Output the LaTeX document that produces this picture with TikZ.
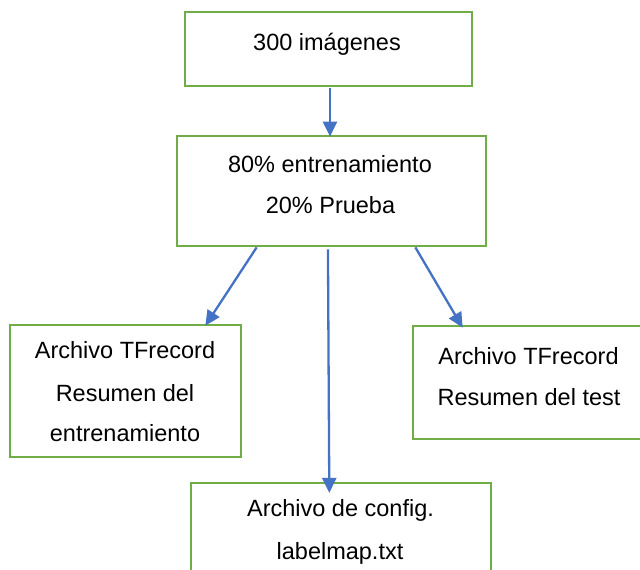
\documentclass[tikz,border=0pt]{standalone}
\usepackage{fontspec}
\setmainfont{Liberation Sans}
\usetikzlibrary{arrows.meta}
\definecolor{boxgreen}{HTML}{70AD47}
\definecolor{arrowblue}{HTML}{4472C4}
\begin{document}
\begin{tikzpicture}[x=1pt,y=-1pt,
  box/.style={draw=boxgreen,line width=2.7pt,fill=white,rectangle,inner sep=0pt},
  txt/.style={anchor=base,inner sep=0pt,font=\fontsize{23.5}{28}\selectfont,text=black},
  arr/.style={draw=arrowblue,line width=2.3pt,-{Triangle[length=15pt,width=14pt]}}]
  \useasboundingbox (0,0) rectangle (640,570);
  \begin{scope}
    \clip (0,0) rectangle (640,570);
    % boxes
    \node[box,minimum width=287pt,minimum height=74pt] (b1) at (328.5,49) {};
    \node[box,minimum width=309pt,minimum height=110pt] (b2) at (331.5,191) {};
    \node[box,minimum width=231pt,minimum height=132pt] (b3) at (125.5,391) {};
    \node[box,minimum width=247pt,minimum height=113pt] (b4) at (536.5,382.5) {};
    \node[box,minimum width=300pt,minimum height=107pt] (b5) at (341,536.5) {};
    % texts
    \node[txt] (t1) at (327,50.7) {300 imágenes};
    \node[txt] (t2a) at (330,172.7) {80\% entrenamiento};
    \node[txt] (t2b) at (330.5,213) {20\% Prueba};
    \node[txt] (t3a) at (125,358) {Archivo TFrecord};
    \node[txt] (t3b) at (125,401.7) {Resumen del};
    \node[txt] (t3c) at (125,441.7) {entrenamiento};
    \node[txt] (t4a) at (528.5,364) {Archivo TFrecord};
    \node[txt] (t4b) at (529,405) {Resumen del test};
    \node[txt] (t5a) at (340.5,516.7) {Archivo de config.};
    \node[txt] (t5b) at (340,559) {labelmap.txt};
    % connectors
    \draw[arr] ([xshift=1.5pt,yshift=-1pt]b1.south) -- ([xshift=-1.5pt,yshift=-2pt]b2.north);
    \draw[arr] ([xshift=81pt]b2.south west) -- ([xshift=196.7pt,yshift=-2pt]b3.north west);
    \draw[arr] ([xshift=152.3pt,yshift=-2pt]b2.south west) -- ([xshift=-11.7pt,yshift=-11.3pt]b5.north);
    \draw[arr] ([xshift=-72pt]b2.south east) -- ([xshift=51pt,yshift=-3pt]b4.north west);
  \end{scope}
\end{tikzpicture}
\end{document}
